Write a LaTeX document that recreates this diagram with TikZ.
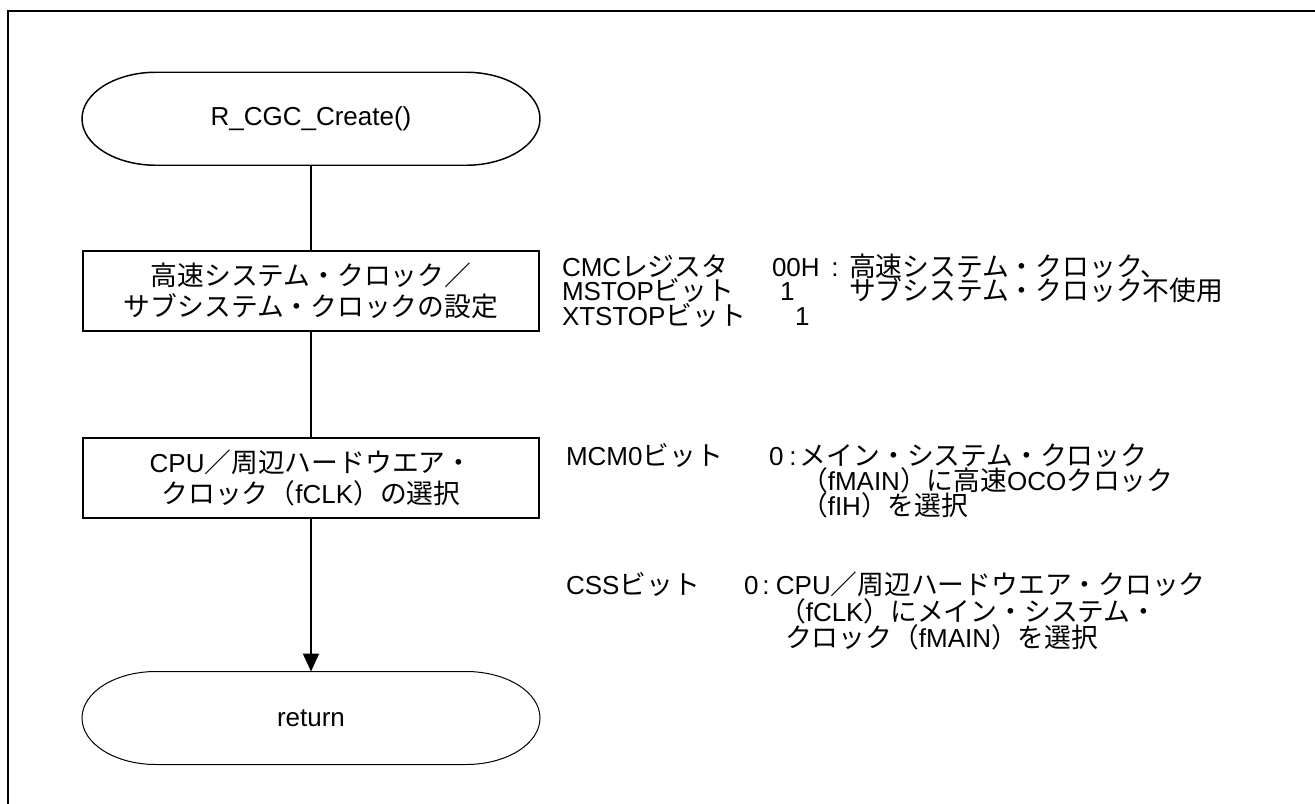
\documentclass[tikz,border=0pt]{standalone}
\usepackage{fontspec}
\setmainfont{Liberation Sans}
\newfontfamily\cjkfont{Noto Sans CJK JP}[Scale=1.03]
\newcommand\J[1]{{\cjkfont #1}}
\usetikzlibrary{arrows.meta}
\newcommand\termshape[2]{%
  \draw[line width=#2] ([xshift=55.5pt]#1.north west) -- ([xshift=-55.5pt]#1.north east)
    arc[start angle=90, end angle=-90, x radius=55.5pt, y radius=34.875pt]
    -- ([xshift=55.5pt]#1.south west)
    arc[start angle=270, end angle=90, x radius=55.5pt, y radius=34.875pt] -- cycle;}
\begin{document}
\begin{tikzpicture}[x=0.75pt,y=-0.75pt,
  font=\fontsize{19.5pt}{23.25pt}\selectfont,
  term/.style={minimum width=343.5pt, minimum height=69.75pt, inner sep=0pt, outer sep=0pt},
  procbox/.style={draw, line width=1.5pt, minimum width=342pt, minimum height=60pt,
    align=center, inner sep=0pt},
  note/.style={anchor=base west, inner sep=0pt, outer sep=0pt, text height=16.5pt, text depth=1.5pt},
  flow/.style={line width=1.5pt}]
\useasboundingbox (0,0) rectangle (1315,804);
% frame
\draw[line width=1.5pt, line join=miter] (7.7,804) -- (7.7,11) -- (1315,11);
% flowchart nodes
\node[term] (s) at (311,118.75) {R\_CGC\_Create()};
\termshape{s}{1.1pt}
\node[procbox] (b1) at (311,291) {\J{高速システム・クロック／}\\\J{サブシステム・クロックの設定}};
\node[procbox] (b2) at (311,478) {CPU\J{／周辺ハードウエア・}\\\J{クロック（}fCLK\J{）の選択}};
\node[term] (r) at (311,718) {return};
\termshape{r}{0.75pt}
% connectors
\draw[flow] (s.south) -- (b1.north);
\draw[flow] (b1.south) -- (b2.north);
\draw[flow,-{Triangle[width=12pt,length=13.5pt]}] (b2.south) -- (r.north);
% annotations block 1
\node[note] (l1) at (562,276) {CMC\J{レジスタ}};
\node[note] (v1) at (772,276) {00H\kern8.8pt:\kern7.8pt\J{高速システム・クロック、}};
\node[note] (l2) at (562,300.5) {MSTOP\J{ビット}};
\node[note] (v2) at (780,300.5) {1};
\node[note] (d2) at (849,300.5) {\J{サブシステム・クロック不使用}};
\node[note] (l3) at (562,325) {XTSTOP\J{ビット}};
\node[note] (v3) at (795,325) {1};
% annotations block 2
\node[note] (l4) at (566,465) {MCM0\J{ビット}};
\node[note] (v4) at (769,465) {0\kern4.4pt:\kern2.55pt\J{メイン・システム・クロック}};
\node[note] (d5) at (801,490) {\J{（}fMAIN\J{）に高速}OCO\J{クロック}};
\node[note] (d6) at (801,515) {\J{（}fIH\J{）を選択}};
% annotations block 3
\node[note] (l7) at (566,594.5) {CSS\J{ビット}};
\node[note] (v7) at (744,594.5) {0\kern2.9pt:\kern4.8pt CPU\J{／周辺ハードウエア・クロック}};
\node[note] (d8) at (779,621) {\J{（}fCLK\J{）にメイン・システム・}};
\node[note] (d9) at (785,647.5) {\J{クロック（}fMAIN\J{）を選択}};
\end{tikzpicture}
\end{document}
